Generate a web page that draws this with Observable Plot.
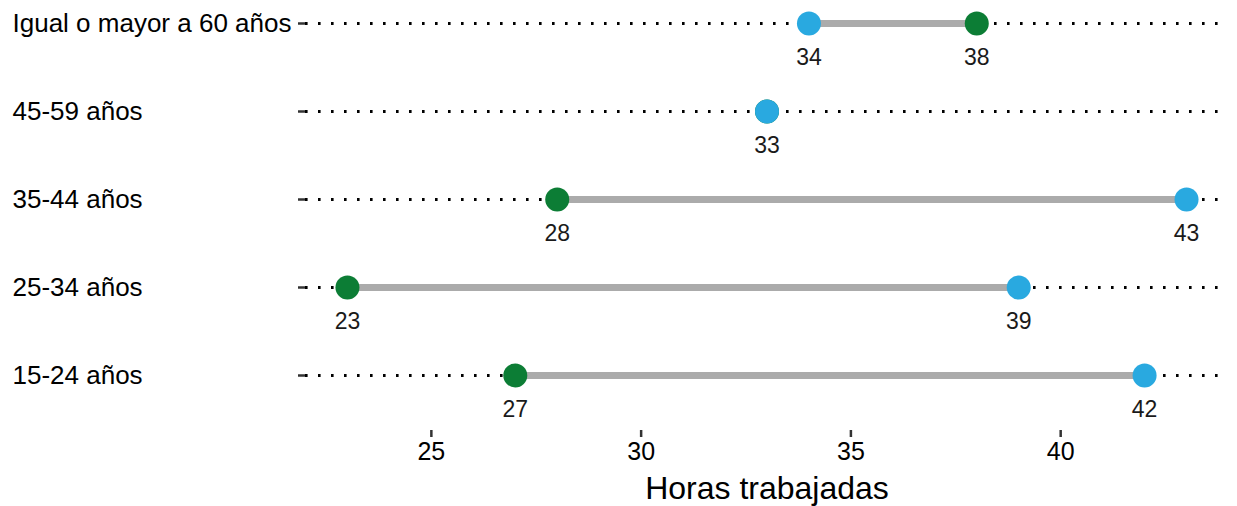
<!DOCTYPE html>
<html>
<head>
<meta charset="utf-8">
<script src="https://cdn.jsdelivr.net/npm/d3@7"></script>
<script src="https://cdn.jsdelivr.net/npm/@observablehq/plot@0.6"></script>
<style>
  html, body { margin: 0; padding: 0; background: #fff; }
  svg { display: block; }
</style>
</head>
<body>
<div id="chart"></div>
<script>
const categories = ["Igual o mayor a 60 años", "45-59 años", "35-44 años", "25-34 años", "15-24 años"];
const serieAzul  = [34, 33, 43, 39, 42];
const serieVerde = [38, 33, 28, 23, 27];
const xTicks = [25, 30, 35, 40];
const xDomain = [22, 44];
const xLabel = "Horas trabajadas";

const rows = categories.map((c, i) => ({cat: c, azul: serieAzul[i], verde: serieVerde[i]}));
const ptsAzul = rows.map(d => ({cat: d.cat, v: d.azul}));
const ptsVerde = rows.map(d => ({cat: d.cat, v: d.verde}));

const font = "'Liberation Sans', Arial, Helvetica, sans-serif";

const plot = Plot.plot({
  width: 1237,
  height: 506,
  marginLeft: 305,
  marginRight: 9,
  marginTop: 0,
  marginBottom: 76,
  style: {fontFamily: font, background: "#fff", color: "#000"},
  x: {domain: xDomain},
  y: {type: "point", domain: categories, range: [22, 376], padding: 0},
  marks: [
    Plot.ruleY(categories, {y: d => d, stroke: "#000", strokeWidth: 3, strokeDasharray: "2.6,10.4"}),
    Plot.ruleY(rows, {y: "cat", x1: "azul", x2: "verde", stroke: "#ABABAB", strokeWidth: 7}),
    Plot.dot(ptsVerde, {x: "v", y: "cat", r: 12, fill: "#0C7D35", stroke: "none"}),
    Plot.dot(ptsAzul, {x: "v", y: "cat", r: 12, fill: "#29A9E0", stroke: "none"}),
    Plot.text(ptsAzul, {x: "v", y: "cat", text: d => String(d.v), dy: 34, fontSize: 23, fill: "#1a1a1a"}),
    Plot.text(ptsVerde.filter((d, i) => d.v !== ptsAzul[i].v), {x: "v", y: "cat", text: d => String(d.v), dy: 34, fontSize: 23, fill: "#1a1a1a"}),
    Plot.axisY({tickSize: 7, text: null, label: null, stroke: "#333", strokeWidth: 2.5}),
    Plot.text(categories, {y: d => d, frameAnchor: "left", dx: -293, textAnchor: "start", fontSize: 26, fill: "#000"}),
    Plot.axisX({ticks: xTicks, tickSize: 7, tickPadding: 5, fontSize: 25, stroke: "#333", strokeWidth: 2.5, fill: "#000",
      label: xLabel, labelAnchor: "center", labelArrow: "none", labelOffset: 68}),
  ]
});
document.getElementById("chart").appendChild(plot);
const labels = plot.querySelectorAll("g[aria-label='x-axis label'] text");
labels.forEach(t => t.setAttribute("font-size", "32"));
</script>
</body>
</html>
